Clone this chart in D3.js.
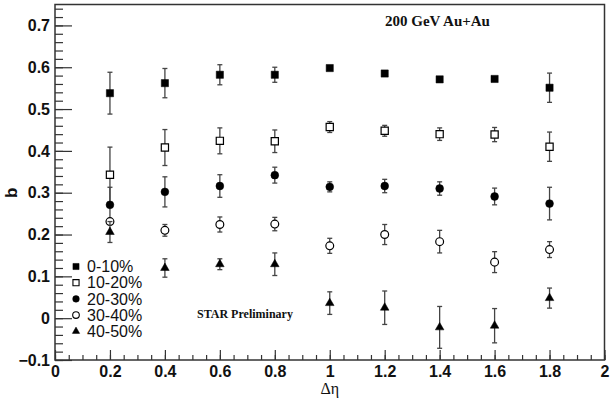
<!DOCTYPE html>
<html>
<head>
<meta charset="utf-8">
<script src="https://cdn.jsdelivr.net/npm/d3@7"></script>
<style>
  html, body { margin: 0; padding: 0; background: #fff; }
  svg { display: block; }
</style>
</head>
<body>
<svg id="chart" width="610" height="398"></svg>
<script>
// Δη bins
const deta = [0.2, 0.4, 0.6, 0.8, 1.0, 1.2, 1.4, 1.6, 1.8];

// b values and their errors per centrality class
const b0_10  = [0.538, 0.562, 0.582, 0.582, 0.598, 0.585, 0.571, 0.572, 0.551];
const e0_10  = [0.050, 0.035, 0.024, 0.018, 0.005, 0.006, 0.005, 0.005, 0.035];
const b10_20 = [0.343, 0.408, 0.424, 0.423, 0.457, 0.448, 0.440, 0.439, 0.410];
const e10_20 = [0.066, 0.043, 0.031, 0.027, 0.013, 0.013, 0.015, 0.017, 0.035];
const b20_30 = [0.271, 0.302, 0.316, 0.342, 0.314, 0.316, 0.310, 0.291, 0.274];
const e20_30 = [0.042, 0.036, 0.027, 0.019, 0.012, 0.016, 0.016, 0.020, 0.039];
const b30_40 = [0.231, 0.210, 0.224, 0.225, 0.173, 0.200, 0.183, 0.134, 0.164];
const e30_40 = [0.006, 0.014, 0.018, 0.016, 0.018, 0.024, 0.027, 0.025, 0.019];
const b40_50 = [0.206, 0.120, 0.129, 0.129, 0.036, 0.025, -0.022, -0.018, 0.048];
const e40_50 = [0.025, 0.022, 0.013, 0.027, 0.027, 0.040, 0.050, 0.041, 0.024];

const classLabels = ["0-10%", "10-20%", "20-30%", "30-40%", "40-50%"];
const xTickValues = [0, 0.2, 0.4, 0.6, 0.8, 1, 1.2, 1.4, 1.6, 1.8, 2];
const yTickValues = [-0.1, 0, 0.1, 0.2, 0.3, 0.4, 0.5, 0.6, 0.7];

const series = [
  { label: classLabels[0], b: b0_10,  e: e0_10,  shape: d3.symbolSquare,   open: false, size: 52 },
  { label: classLabels[1], b: b10_20, e: e10_20, shape: d3.symbolSquare,   open: true,  size: 52 },
  { label: classLabels[2], b: b20_30, e: e20_30, shape: d3.symbolCircle,   open: false, size: 48 },
  { label: classLabels[3], b: b30_40, e: e30_40, shape: d3.symbolCircle,   open: true,  size: 48 },
  { label: classLabels[4], b: b40_50, e: e40_50, shape: d3.symbolTriangle, open: false, size: 32 }
];

const svg = d3.select("#chart");
const plotL = 55, plotR = 604.5, plotT = 4.5, plotB = 360;

const x = d3.scaleLinear().domain([0, 2]).range([plotL, plotR]);
const y = d3.scaleLinear().domain([-0.1, 0.75]).range([plotB, plotT]);

const axisColor = "#333";
const fmt = d => (d === 0 ? "0" : d3.format("")(+d.toFixed(1)));

// frame
svg.append("rect")
  .attr("x", plotL).attr("y", plotT)
  .attr("width", plotR - plotL).attr("height", plotB - plotT)
  .attr("fill", "none").attr("stroke", axisColor).attr("stroke-width", 1.5);

// x axis: minor ticks every 0.05, major every 0.2
const xMinor = d3.range(0, 2.0001, 0.05).map(v => +v.toFixed(2));
svg.append("g").attr("transform", `translate(0,${plotB})`)
  .call(d3.axisTop(x).tickValues(xMinor).tickSize(5).tickFormat(""))
  .call(g => g.select(".domain").remove())
  .call(g => g.selectAll("line").attr("stroke", axisColor).attr("stroke-width", 1.2));
svg.append("g").attr("transform", `translate(0,${plotB})`)
  .call(d3.axisTop(x).tickValues(xTickValues).tickSize(10).tickFormat(""))
  .call(g => g.select(".domain").remove())
  .call(g => g.selectAll("line").attr("stroke", axisColor).attr("stroke-width", 1.2));
svg.append("g").attr("transform", `translate(0,${plotB})`)
  .call(d3.axisBottom(x).tickValues(xTickValues).tickSize(0).tickPadding(6).tickFormat(fmt))
  .call(g => g.select(".domain").remove())
  .call(g => g.selectAll("text")
    .attr("font-family", "Liberation Sans, Arial, sans-serif")
    .attr("font-weight", "bold").attr("font-size", 16).attr("fill", "#111")
    .attr("dy", "0.71em").attr("y", 6));

// y axis: minor ticks every 0.02, major every 0.1
const yMinor = d3.range(-0.1, 0.7501, 0.02).map(v => +v.toFixed(2));
svg.append("g").attr("transform", `translate(${plotL},0)`)
  .call(d3.axisRight(y).tickValues(yMinor).tickSize(8).tickFormat(""))
  .call(g => g.select(".domain").remove())
  .call(g => g.selectAll("line").attr("stroke", axisColor).attr("stroke-width", 1.2));
svg.append("g").attr("transform", `translate(${plotL},0)`)
  .call(d3.axisRight(y).tickValues(yTickValues).tickSize(17).tickFormat(""))
  .call(g => g.select(".domain").remove())
  .call(g => g.selectAll("line").attr("stroke", axisColor).attr("stroke-width", 1.2));
svg.append("g").attr("transform", `translate(${plotL},0)`)
  .call(d3.axisLeft(y).tickValues(yTickValues).tickSize(0).tickPadding(5).tickFormat(fmt))
  .call(g => g.select(".domain").remove())
  .call(g => g.selectAll("text")
    .attr("font-family", "Liberation Sans, Arial, sans-serif")
    .attr("font-weight", "bold").attr("font-size", 16).attr("fill", "#111"));

// axis titles
svg.append("text")
  .attr("transform", `translate(17,${y(0.3)}) rotate(-90)`)
  .attr("text-anchor", "middle")
  .attr("font-family", "Liberation Sans, Arial, sans-serif")
  .attr("font-weight", "bold").attr("font-size", 17).attr("fill", "#111")
  .text("b");
svg.append("text")
  .attr("x", x(1)).attr("y", 394)
  .attr("text-anchor", "middle")
  .attr("font-family", "Liberation Serif, Times New Roman, serif")
  .attr("font-size", 16).attr("fill", "#111")
  .text("Δη");

// error bars and markers
const errColor = "#444";
const capHalf = 2.5;
series.forEach(s => {
  const g = svg.append("g");
  const pts = deta.map((d, i) => ({ x: d, b: s.b[i], e: s.e[i] }));
  g.selectAll("line.bar").data(pts).join("line")
    .attr("class", "bar")
    .attr("x1", d => x(d.x)).attr("x2", d => x(d.x))
    .attr("y1", d => y(d.b + d.e)).attr("y2", d => y(d.b - d.e))
    .attr("stroke", errColor).attr("stroke-width", 1.3);
  ["top", "bot"].forEach(k => {
    g.selectAll("line.cap" + k).data(pts).join("line")
      .attr("class", "cap" + k)
      .attr("x1", d => x(d.x) - capHalf).attr("x2", d => x(d.x) + capHalf)
      .attr("y1", d => y(k === "top" ? d.b + d.e : d.b - d.e))
      .attr("y2", d => y(k === "top" ? d.b + d.e : d.b - d.e))
      .attr("stroke", errColor).attr("stroke-width", 1.3);
  });
  g.selectAll("path.mk").data(pts).join("path")
    .attr("class", "mk")
    .attr("d", d3.symbol().type(s.shape).size(s.size))
    .attr("transform", d => `translate(${x(d.x)},${y(d.b)})`)
    .attr("fill", s.open ? "#fff" : "#000")
    .attr("stroke", "#000").attr("stroke-width", s.open ? 1.2 : 0.5);
});

// legend
const legendX = 76, legendY0 = 266.5, legendDy = 16.2;
series.forEach((s, i) => {
  const ly = legendY0 + i * legendDy;
  svg.append("path")
    .attr("d", d3.symbol().type(s.shape).size(s.size * 0.72))
    .attr("transform", `translate(${legendX},${ly})`)
    .attr("fill", s.open ? "#fff" : "#000")
    .attr("stroke", "#000").attr("stroke-width", s.open ? 1.1 : 0.5);
  svg.append("text")
    .attr("x", 87).attr("y", ly).attr("dy", "0.36em")
    .attr("font-family", "Liberation Sans, Arial, sans-serif")
    .attr("font-size", 16).attr("fill", "#111")
    .text(s.label);
});

// annotations
svg.append("text")
  .attr("x", 385).attr("y", 26)
  .attr("font-family", "Liberation Serif, Times New Roman, serif")
  .attr("font-weight", "bold").attr("font-size", 15).attr("fill", "#111")
  .text("200 GeV Au+Au");
svg.append("text")
  .attr("x", 197).attr("y", 318)
  .attr("font-family", "Liberation Serif, Times New Roman, serif")
  .attr("font-weight", "bold").attr("font-size", 12).attr("fill", "#111")
  .text("STAR Preliminary");
</script>
</body>
</html>
